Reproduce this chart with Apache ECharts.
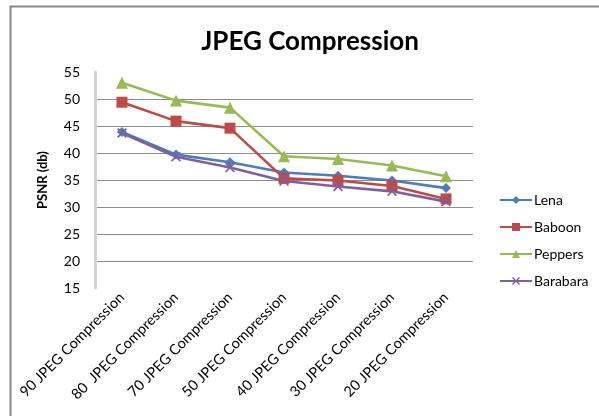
<!DOCTYPE html>
<html><head><meta charset="utf-8">
<script src="https://cdn.jsdelivr.net/npm/echarts@6/dist/echarts.min.js"></script>
<style>html,body{margin:0;padding:0;background:#fff}#c{width:599px;height:416px}</style>
</head><body><div id="c"></div>
<script>
const categories = ['90 JPEG Compression','80  JPEG Compression','70 JPEG Compression','50 JPEG Compression','40 JPEG Compression','30 JPEG Compression','20 JPEG Compression'];
const lena = [43.9, 39.7, 38.3, 36.4, 35.8, 34.9, 33.5];
const baboon = [49.4, 45.9, 44.6, 35.3, 34.9, 33.9, 31.5];
const peppers = [53.0, 49.7, 48.4, 39.4, 38.9, 37.7, 35.7];
const barbara = [43.7, 39.3, 37.3, 34.8, 33.8, 32.9, 31.0];
const yTicks = [15, 20, 25, 30, 35, 40, 45, 50, 55];

const xMark = 'path://M0,1.2L1.2,0L5,3.8L8.8,0L10,1.2L6.2,5L10,8.8L8.8,10L5,6.2L1.2,10L0,8.8L3.8,5Z';
const font = 'Lato, "Open Sans", sans-serif';
const chart = echarts.init(document.getElementById('c'), null, {renderer:'canvas'});
function s(name, data, color, symbol, size) {
  return {name, type:'line', data, symbol, symbolSize:size, showSymbol:true,
    itemStyle:{color}, lineStyle:{color, width:2.6}, animation:false};
}
chart.setOption({
  animation:false,
  graphic:[{type:'rect', shape:{x:10.5,y:6.5,width:700,height:500}, style:{fill:'none', stroke:'#888', lineWidth:2}, silent:true, z:-1}],
  title:{text:'JPEG Compression', left:305, top:24, textAlign:'center',
    textStyle:{fontFamily:font, fontWeight:'bold', fontSize:26, color:'#000'}},
  grid:{left:95, right:126, top:72, bottom:128, containLabel:false},
  legend:{orient:'vertical', left:494, top:188, itemGap:13, itemWidth:32, itemHeight:10,
    textStyle:{fontFamily:font, fontSize:14, color:'#000', padding:[0,0,0,-3]},
    data:['Lena','Baboon','Peppers','Barabara']},
  xAxis:{type:'category', data:categories, boundaryGap:true,
    axisLine:{show:false}, axisTick:{show:false},
    axisLabel:{rotate:45, interval:0, margin:7, fontFamily:font, fontSize:14.5, color:'#000'}},
  yAxis:{type:'value', min:15, max:55, interval:5,
    name:'PSNR (db)', nameLocation:'middle', nameGap:46, nameRotate:90,
    nameTextStyle:{fontFamily:font, fontWeight:'bold', fontSize:13, color:'#000'},
    axisLine:{show:true, lineStyle:{color:'#d4d4d4', width:3}},
    axisTick:{show:false},
    axisLabel:{margin:15, fontFamily:font, fontSize:14, color:'#000',
      formatter:v => yTicks.includes(v) ? String(v) : ''},
    splitLine:{show:true, lineStyle:{color:'#8c8c8c', width:1},
      showMinLine:false, showMaxLine:false}},
  series:[
    s('Lena', lena, '#4a7ebb', 'diamond', 10),
    s('Baboon', baboon, '#be4b48', 'rect', 11),
    s('Peppers', peppers, '#98b954', 'triangle', 12),
    s('Barabara', barbara, '#7d60a0', xMark, 10)
  ]
});
</script></body></html>
